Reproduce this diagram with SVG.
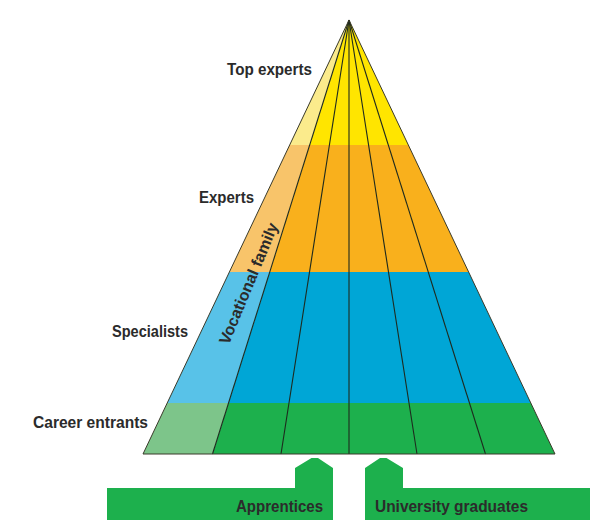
<svg xmlns="http://www.w3.org/2000/svg" width="601" height="520" viewBox="0 0 601 520">
  <style>
    .lbl { font-family: "Liberation Sans", Arial, sans-serif; font-weight: bold; font-size: 16px; fill: #2b2b2b; }
    .div { stroke: #1e2a1e; stroke-width: 1.1; fill: none; }
    .edge { stroke: #3a3a2a; stroke-width: 1; fill: none; stroke-linejoin: miter; }
  </style>
  <rect width="601" height="520" fill="#ffffff"/>

  <g id="layer-top-experts">
    <polygon points="349,20 408.33,145 309.66,145" fill="#FFE500"/>
    <polygon points="349,20 309.66,145 289.67,145" fill="#FBEB8C"/>
  </g>
  <g id="layer-experts">
    <polygon points="309.66,145 408.33,145 468.61,272 269.74,272" fill="#F9B01C"/>
    <polygon points="289.67,145 309.66,145 269.74,272 229.39,272" fill="#F8C46A"/>
  </g>
  <g id="layer-specialists">
    <polygon points="269.74,272 468.61,272 530.79,403 228.54,403" fill="#00A6D6"/>
    <polygon points="229.39,272 269.74,272 228.54,403 167.21,403" fill="#58C2E8"/>
  </g>
  <g id="layer-career-entrants">
    <polygon points="228.54,403 530.79,403 555,454 212.5,454" fill="#1DB04D"/>
    <polygon points="167.21,403 228.54,403 212.5,454 143,454" fill="#7DC58A"/>
  </g>

  <g id="connectors">
    <line class="div" x1="349" y1="20" x2="212.5" y2="454"/>
    <line class="div" x1="349" y1="20" x2="281" y2="454"/>
    <line class="div" x1="349" y1="20" x2="349" y2="454"/>
    <line class="div" x1="349" y1="20" x2="417" y2="454"/>
    <line class="div" x1="349" y1="20" x2="485.5" y2="454"/>
    <polygon class="edge" points="349,20 555,454 143,454"/>
  </g>

  <g id="labels">
    <text class="lbl" x="227" y="75" textLength="85" lengthAdjust="spacingAndGlyphs">Top experts</text>
    <text class="lbl" x="199" y="203" textLength="55" lengthAdjust="spacingAndGlyphs">Experts</text>
    <text class="lbl" x="112" y="337" textLength="76" lengthAdjust="spacingAndGlyphs">Specialists</text>
    <text class="lbl" x="33" y="428" textLength="115" lengthAdjust="spacingAndGlyphs">Career entrants</text>
    <text class="lbl" x="253.5" y="285.5" text-anchor="middle" transform="rotate(-67.5 253.5 285.5)" textLength="130" lengthAdjust="spacingAndGlyphs">Vocational family</text>
  </g>

  <g id="node-apprentices">
    <path d="M107,488 H295 V468 L311.5,458 H318 L333,468 V520 H107 Z" fill="#1DB04D"/>
    <text class="lbl" x="236" y="512" textLength="87" lengthAdjust="spacingAndGlyphs">Apprentices</text>
  </g>
  <g id="node-university-graduates">
    <path d="M365,520 V468 L380,458 H386.5 L403,468 V488 H590 V520 Z" fill="#1DB04D"/>
    <text class="lbl" x="375" y="512" textLength="153" lengthAdjust="spacingAndGlyphs">University graduates</text>
  </g>
</svg>
